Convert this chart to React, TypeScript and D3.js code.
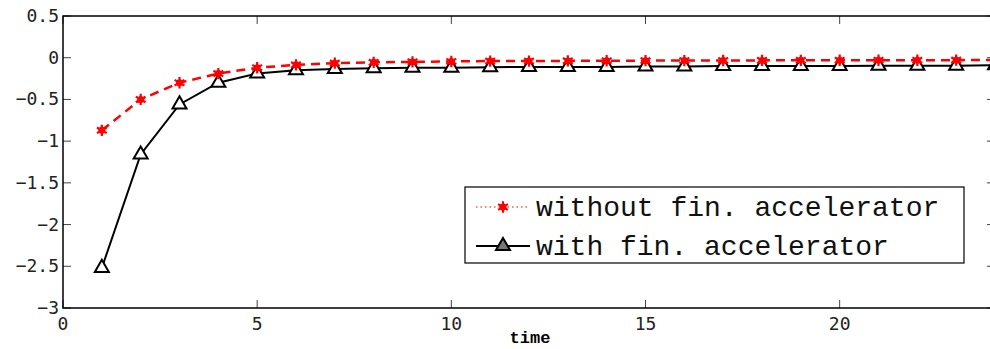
import React, { useEffect, useRef } from "react";
import * as d3 from "d3";

const times = [1, 2, 3, 4, 5, 6, 7, 8, 9, 10, 11, 12, 13, 14, 15, 16, 17, 18, 19, 20, 21, 22, 23, 24];
const withoutAcc = [
  -0.87, -0.5, -0.3, -0.19, -0.12, -0.085, -0.065, -0.055, -0.05, -0.045, -0.04, -0.04,
  -0.038, -0.036, -0.035, -0.034, -0.033, -0.032, -0.031, -0.03, -0.03, -0.03, -0.029, -0.028,
];
const withAcc = [
  -2.52, -1.16, -0.56, -0.3, -0.19, -0.15, -0.135, -0.125, -0.12, -0.12, -0.115, -0.11,
  -0.11, -0.11, -0.105, -0.105, -0.1, -0.1, -0.1, -0.1, -0.095, -0.095, -0.095, -0.09,
];
const xTicks = [0, 5, 10, 15, 20];
const yTicks = [0.5, 0, -0.5, -1, -1.5, -2, -2.5, -3];
const legendLabels = ["without fin. accelerator", "with fin. accelerator"];

const W = 990;
const H = 349;
const margin = { left: 63, top: 16, right: 995, bottom: 308 };
const mono = "'DejaVu Sans Mono', monospace";
const courier = "'Liberation Mono', 'Courier New', monospace";

export default function App() {
  const ref = useRef<SVGSVGElement>(null);

  useEffect(() => {
    if (!ref.current) return;
    const svg = d3.select(ref.current);
    svg.selectAll("*").remove();

    const x = d3.scaleLinear().domain([0, 24]).range([margin.left, margin.right]);
    const y = d3.scaleLinear().domain([-3, 0.5]).range([margin.bottom, margin.top]);

    svg.append("rect").attr("width", W).attr("height", H).attr("fill", "#fff");

    const tickLen = 8;
    const fmt = d3.format("");

    // ticks inside the frame
    const tg = svg.append("g").attr("stroke", "#444").attr("stroke-width", 1);
    xTicks.forEach((t) => {
      tg.append("line").attr("x1", x(t)).attr("x2", x(t)).attr("y1", margin.bottom).attr("y2", margin.bottom - tickLen);
      tg.append("line").attr("x1", x(t)).attr("x2", x(t)).attr("y1", margin.top).attr("y2", margin.top + tickLen);
    });
    yTicks.forEach((t) => {
      tg.append("line").attr("x1", margin.left).attr("x2", margin.left + tickLen).attr("y1", y(t)).attr("y2", y(t));
      tg.append("line").attr("x1", margin.right).attr("x2", margin.right - tickLen).attr("y1", y(t)).attr("y2", y(t));
    });

    // frame
    svg
      .append("rect")
      .attr("x", margin.left)
      .attr("y", margin.top)
      .attr("width", margin.right - margin.left)
      .attr("height", margin.bottom - margin.top)
      .attr("fill", "none")
      .attr("stroke", "#000")
      .attr("stroke-width", 1.5);

    // tick labels
    svg
      .append("g")
      .selectAll("text")
      .data(yTicks)
      .enter()
      .append("text")
      .attr("x", margin.left - 4)
      .attr("y", (d) => y(d) + 6)
      .attr("text-anchor", "end")
      .style("font-family", mono)
      .style("font-size", "18px")
      .attr("fill", "#222")
      .text((d) => fmt(d));

    svg
      .append("g")
      .selectAll("text")
      .data(xTicks)
      .enter()
      .append("text")
      .attr("x", (d) => x(d))
      .attr("y", margin.bottom + 22)
      .attr("text-anchor", "middle")
      .style("font-family", mono)
      .style("font-size", "18px")
      .attr("fill", "#222")
      .text((d) => fmt(d));

    svg
      .append("text")
      .attr("x", 530)
      .attr("y", 343)
      .attr("text-anchor", "middle")
      .style("font-family", courier)
      .style("font-size", "17px")
      .style("font-weight", "bold")
      .text("time");

    const line = d3
      .line<number>()
      .x((_, i) => x(times[i]))
      .y((d) => y(d));

    // with accelerator
    svg
      .append("path")
      .attr("d", line(withAcc))
      .attr("fill", "none")
      .attr("stroke", "#000")
      .attr("stroke-width", 2);

    const tri = d3.symbol().type(d3.symbolTriangle).size(85);
    svg
      .append("g")
      .selectAll("path")
      .data(withAcc)
      .enter()
      .append("path")
      .attr("d", tri)
      .attr("transform", (d, i) => `translate(${x(times[i])},${y(d)})`)
      .attr("fill", "#fff")
      .attr("stroke", "#000")
      .attr("stroke-width", 2);

    // without accelerator
    svg
      .append("path")
      .attr("d", line(withoutAcc))
      .attr("fill", "none")
      .attr("stroke", "#f00")
      .attr("stroke-width", 2.5)
      .attr("stroke-dasharray", "9,6");

    const star = d3.symbol().type(d3.symbolAsterisk).size(90);
    const starG = svg.append("g");
    withoutAcc.forEach((d, i) => {
      const g = starG.append("g").attr("transform", `translate(${x(times[i])},${y(d)})`);
      g.append("path").attr("d", star).attr("fill", "none").attr("stroke", "#f00").attr("stroke-width", 2.2);
      g.append("circle").attr("r", 3.5).attr("fill", "#f00");
    });

    // legend
    const lg = svg.append("g");
    lg.append("rect")
      .attr("x", 465)
      .attr("y", 187)
      .attr("width", 499)
      .attr("height", 76)
      .attr("fill", "#fff")
      .attr("stroke", "#000")
      .attr("stroke-width", 1.2);

    const rows = [207, 246];
    // row 1
    lg.append("line")
      .attr("x1", 476)
      .attr("x2", 530)
      .attr("y1", rows[0])
      .attr("y2", rows[0])
      .attr("stroke", "#f00")
      .attr("stroke-width", 1)
      .attr("stroke-dasharray", "1.5,3");
    const ls = lg.append("g").attr("transform", `translate(503,${rows[0]})`);
    ls.append("path").attr("d", star).attr("fill", "none").attr("stroke", "#f00").attr("stroke-width", 2.2);
    ls.append("circle").attr("r", 3.5).attr("fill", "#f00");
    // row 2
    lg.append("line")
      .attr("x1", 476)
      .attr("x2", 530)
      .attr("y1", rows[1])
      .attr("y2", rows[1])
      .attr("stroke", "#000")
      .attr("stroke-width", 2);
    lg.append("path")
      .attr("d", tri)
      .attr("transform", `translate(503,${rows[1]})`)
      .attr("fill", "#777")
      .attr("stroke", "#000")
      .attr("stroke-width", 2);

    legendLabels.forEach((t, i) => {
      lg.append("text")
        .attr("x", 536)
        .attr("y", rows[i] + 9)
        .style("font-family", courier)
        .style("font-size", "28px")
        .attr("fill", "#111")
        .text(t);
    });
  }, []);

  return (
    <svg
      ref={ref}
      width={W}
      height={H}
      style={{ position: "absolute", left: 0, top: 0, display: "block" }}
    />
  );
}
